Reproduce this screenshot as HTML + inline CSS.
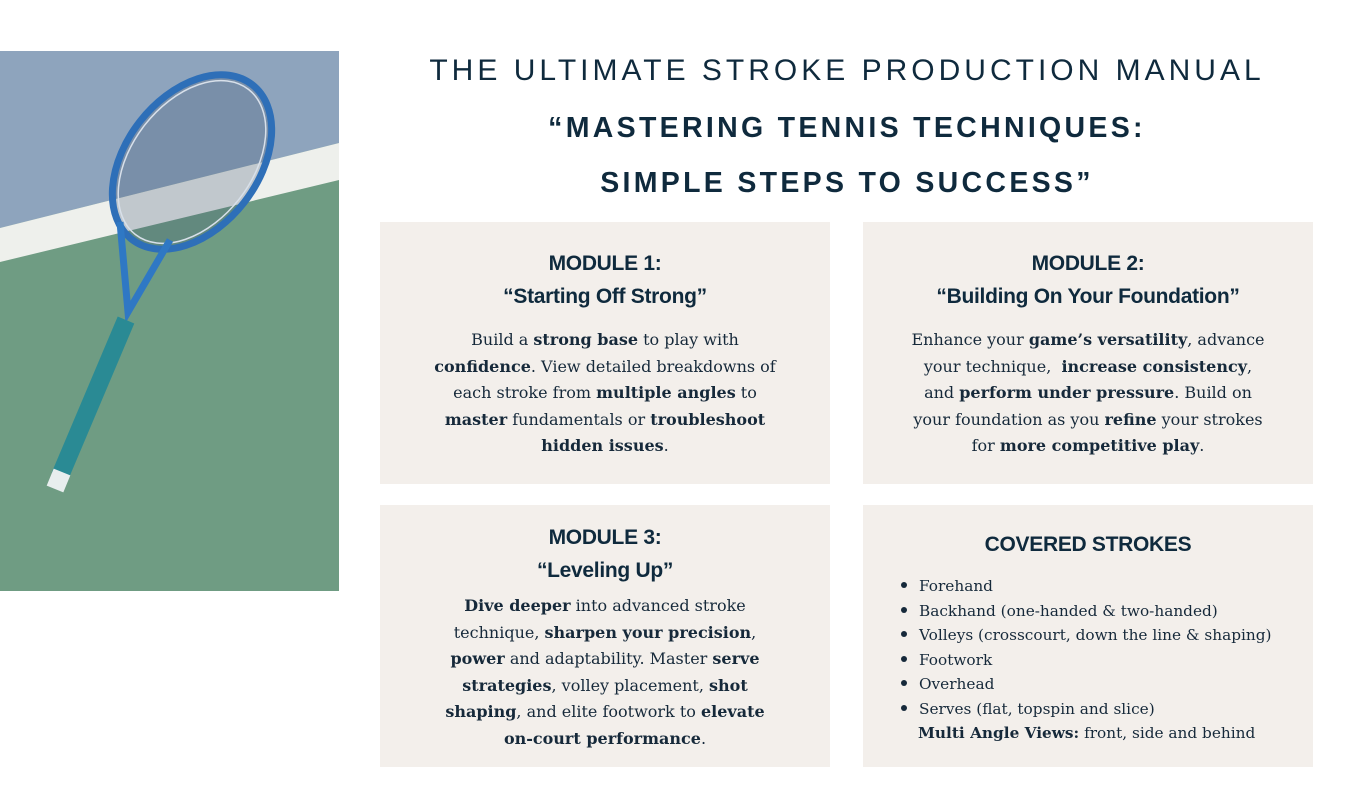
<!DOCTYPE html>
<html><head><meta charset="utf-8"><style>
body{margin:0;width:1366px;height:786px;background:#fff;position:relative;overflow:hidden;font-family:"DejaVu Serif",serif;color:#0f2a3d}
.t{position:absolute;left:380px;width:934px;text-align:center;font-family:"Liberation Sans",sans-serif;color:#0f2a3d;white-space:nowrap}
.box{position:absolute;background:#f3efeb;width:450px;height:262px;text-align:center}
.h{font-family:"Liberation Sans",sans-serif;font-weight:bold;font-size:21px;line-height:33px;letter-spacing:-0.3px;color:#0f2a3d}
.p{font-size:16px;line-height:26.6px;color:#16293a}
ul{margin:0;padding:0 0 0 38px;text-align:left;font-size:15.3px;line-height:24.5px;list-style:none;color:#16293a}
li:before{content:"";display:inline-block;width:6px;height:6px;border-radius:3px;background:#16293a;margin:0 12px 3px 0}
</style></head><body>
<svg style="position:absolute;left:0;top:51px" width="339" height="540" viewBox="0 51 339 540">
<rect x="0" y="51" width="339" height="540" fill="#6f9c83"/>
<polygon points="0,51 339,51 339,143 0,228" fill="#8ea4bd"/>
<polygon points="0,228 339,143 339,180 0,262" fill="#eef0ec"/>
<g transform="rotate(38 192 162)">
<ellipse cx="192" cy="162" rx="66" ry="98" fill="rgba(60,80,110,0.25)" stroke="#2e6fb8" stroke-width="7"/>
<ellipse cx="192" cy="162" rx="60" ry="92" fill="none" stroke="#d8e0ea" stroke-width="1.5"/>
</g>
<path d="M120,222 L128,312 L170,240" fill="none" stroke="#2f78c4" stroke-width="7"/>
<line x1="126" y1="320" x2="60" y2="476" stroke="#2a8a94" stroke-width="18"/>
<line x1="62" y1="472" x2="55" y2="489" stroke="#e8eeee" stroke-width="18"/>
</svg>
<div class="t" style="top:54px;font-size:30px;letter-spacing:4px">THE ULTIMATE STROKE PRODUCTION MANUAL</div>
<div class="t" style="top:112px;font-size:28.5px;letter-spacing:3.3px;font-weight:bold">“MASTERING TENNIS TECHNIQUES:</div>
<div class="t" style="top:167px;font-size:28.5px;letter-spacing:3.3px;font-weight:bold">SIMPLE STEPS TO SUCCESS”</div>

<div class="box" style="left:380px;top:222px"><div style="margin-top:25px" class="h">MODULE 1:<br>“Starting Off Strong”</div>
<div class="p" style="margin-top:14px;padding:0 44px">Build a <b>strong base</b> to play with <b>confidence</b>. View detailed breakdowns of each stroke from <b>multiple angles</b> to <b>master</b> fundamentals or <b>troubleshoot hidden issues</b>.</div></div>

<div class="box" style="left:863px;top:222px"><div style="margin-top:25px" class="h">MODULE 2:<br>“Building On Your Foundation”</div>
<div class="p" style="margin-top:14px;white-space:nowrap">Enhance your <b>game’s versatility</b>, advance<br>your technique, &nbsp;<b>increase consistency</b>,<br>and <b>perform under pressure</b>. Build on<br>your foundation as you <b>refine</b> your strokes<br>for <b>more competitive play</b>.</div></div>

<div class="box" style="left:380px;top:505px"><div style="margin-top:16px" class="h">MODULE 3:<br>“Leveling Up”</div>
<div class="p" style="margin-top:6px;padding:0 52px"><b>Dive deeper</b> into advanced stroke technique, <b>sharpen your precision</b>, <b>power</b> and adaptability. Master <b>serve strategies</b>, volley placement, <b>shot shaping</b>, and elite footwork to <b>elevate on-court performance</b>.</div></div>

<div class="box" style="left:863px;top:505px"><div style="margin-top:23px" class="h">COVERED STROKES</div>
<ul style="margin-top:13px"><li>Forehand</li><li>Backhand (one-handed &amp; two-handed)</li><li>Volleys (crosscourt, down the line &amp; shaping)</li><li>Footwork</li><li>Overhead</li><li>Serves (flat, topspin and slice)</li></ul>
<div style="text-align:left;padding-left:55px;font-size:15.3px;line-height:24.5px;color:#16293a"><b>Multi Angle Views:</b> front, side and behind</div></div>
</body></html>
